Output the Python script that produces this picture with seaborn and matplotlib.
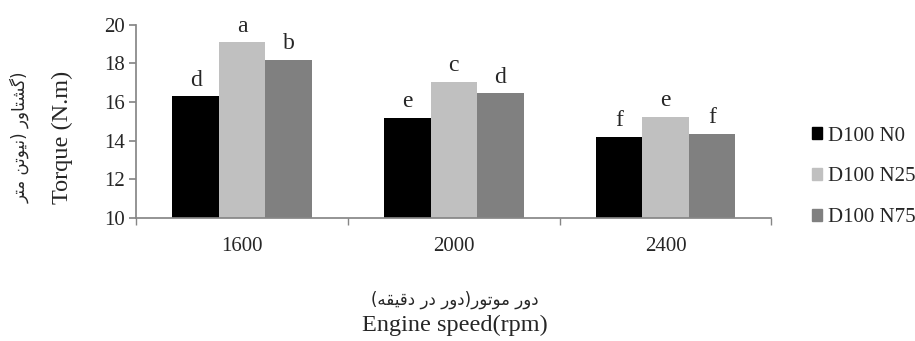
import seaborn as sns
import matplotlib.pyplot as plt
import pandas as pd
from matplotlib.patches import Patch

speeds = ['1600', '2000', '2400']
series = ['D100 N0', 'D100 N25', 'D100 N75']
n0 = [16.3, 15.2, 14.2]
n25 = [19.1, 17.05, 15.25]
n75 = [18.2, 16.45, 14.35]
letters_n0 = ['d', 'e', 'f']
letters_n25 = ['a', 'c', 'e']
letters_n75 = ['b', 'd', 'f']
colors = ['#000000', '#C0C0C0', '#808080']

# minimal persian shaping: (isolated, final, initial, medial)
FORMS = {
    'ا': ('\uFE8D', '\uFE8E', None, None),
    'د': ('\uFEA9', '\uFEAA', None, None),
    'ر': ('\uFEAD', '\uFEAE', None, None),
    'و': ('\uFEED', '\uFEEE', None, None),
    'م': ('\uFEE1', '\uFEE2', '\uFEE3', '\uFEE4'),
    'ت': ('\uFE95', '\uFE96', '\uFE97', '\uFE98'),
    'ن': ('\uFEE5', '\uFEE6', '\uFEE7', '\uFEE8'),
    'ق': ('\uFED5', '\uFED6', '\uFED7', '\uFED8'),
    'ه': ('\uFEE9', '\uFEEA', '\uFEEB', '\uFEEC'),
    'ش': ('\uFEB5', '\uFEB6', '\uFEB7', '\uFEB8'),
    'ی': ('\uFBFC', '\uFBFD', '\uFBFE', '\uFBFF'),
    'گ': ('\uFB92', '\uFB93', '\uFB94', '\uFB95'),
}
MIRROR = {'(': ')', ')': '('}


def fa(text):
    out = []
    for i, ch in enumerate(text):
        if ch not in FORMS:
            out.append(MIRROR.get(ch, ch))
            continue
        prev = text[i - 1] if i > 0 else ''
        nxt = text[i + 1] if i + 1 < len(text) else ''
        jp = prev in FORMS and FORMS[prev][2] is not None
        jn = FORMS[ch][2] is not None and nxt in FORMS
        iso, fin, ini, med = FORMS[ch]
        out.append(med if jp and jn else fin if jp else ini if jn else iso)
    return ''.join(reversed(out))


sns.set_theme(style='white')
plt.rcParams['font.family'] = ['Liberation Serif', 'DejaVu Sans']
plt.rcParams['axes.edgecolor'] = '#868686'

df = pd.DataFrame({
    'speed': speeds * 3,
    'series': [s for s in series for _ in speeds],
    'torque': n0 + n25 + n75,
})

fig = plt.figure(figsize=(9.15, 3.41), dpi=100)
ax = fig.add_axes([0.149, 0.361, 0.694, 0.566])
sns.barplot(df, x='speed', y='torque', hue='series', palette=colors,
            width=0.66, saturation=1, legend=False, ax=ax, linewidth=0)

for cont, labs in zip(ax.containers, [letters_n0, letters_n25, letters_n75]):
    ax.bar_label(cont, labels=labs, padding=4, fontsize=17)

ax.set_ylim(10, 20)
ax.set_yticks(range(10, 21, 2))
ax.set_xlim(-0.5, 2.5)
ax.set_xlabel('')
ax.set_ylabel('')
sns.despine(ax=ax)
ax.tick_params(axis='y', left=True, length=5, color='#868686', labelsize=15, pad=3)
ax.tick_params(axis='x', which='major', bottom=False, labelsize=15, pad=8)
ax.set_xticks([-0.5, 0.5, 1.5, 2.5], minor=True)
ax.tick_params(axis='x', which='minor', bottom=True, length=5, color='#868686')

handles = [Patch(color=c) for c in colors]
ax.legend(handles, series, loc='center left', bbox_to_anchor=(0.867, 0.481),
          bbox_transform=fig.transFigure, frameon=False, fontsize=15,
          handlelength=0.48, handleheight=0.48, handletextpad=0.29, labelspacing=1.05)

fig.text(0.022, 0.598, fa('(گشتاور (نیوتن متر'), rotation=90, ha='center', va='center',
         fontsize=12, family=['DejaVu Sans'])
fig.text(0.068, 0.598, 'Torque (N.m)', rotation=90, ha='center', va='center', fontsize=17.5)
fig.text(0.497, 0.12, fa('دور موتور(دور در دقیقه)'), ha='center', va='center',
         fontsize=12, family=['DejaVu Sans'])
fig.text(0.497, 0.045, 'Engine speed(rpm)', ha='center', va='center', fontsize=17.5)

fig.savefig('out.png', dpi=100)
